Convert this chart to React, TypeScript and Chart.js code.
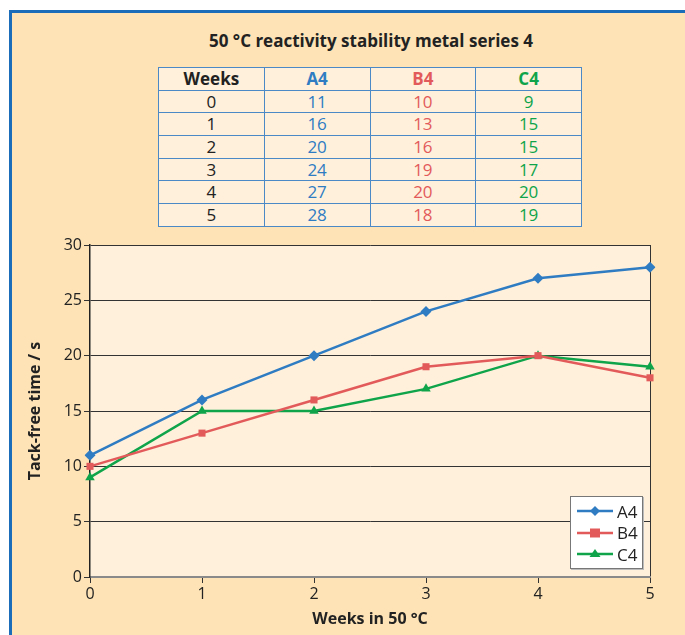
import React, { useEffect, useRef } from "react";
import { Chart, registerables } from "chart.js";

Chart.register(...registerables);

const chartTitle = "50 °C reactivity stability metal series 4";
const weeks = ["0", "1", "2", "3", "4", "5"];
const seriesNames = ["A4", "B4", "C4"];
const a4 = [11, 16, 20, 24, 27, 28];
const b4 = [10, 13, 16, 19, 20, 18];
const c4 = [9, 15, 15, 17, 20, 19];
const yTicks = [0, 5, 10, 15, 20, 25, 30];
const xTitle = "Weeks in 50 °C";
const yTitle = "Tack-free time / s";

const BLUE = "#2F7CC3";
const RED = "#E35A5A";
const GREEN = "#0FA44A";
const colors = [BLUE, RED, GREEN];
const markers = ["rectRot", "rect", "triangle"];
const FONT = "'Liberation Sans Narrow', 'Open Sans', sans-serif";

export default function App() {
  const ref = useRef<HTMLCanvasElement | null>(null);

  useEffect(() => {
    if (!ref.current) return;
    const seriesData = [a4, b4, c4];
    const areaBg = {
      id: "areaBg",
      beforeDraw(chart: any) {
        const { ctx, chartArea } = chart;
        ctx.save();
        ctx.fillStyle = "#FEF0DB";
        ctx.fillRect(chartArea.left, chartArea.top, chartArea.right - chartArea.left, chartArea.bottom - chartArea.top);
        ctx.restore();
      },
    };
    const chart = new Chart(ref.current, {
      type: "line",
      data: {
        labels: weeks,
        datasets: seriesNames.map((name, i) => ({
          label: name,
          data: seriesData[i],
          borderColor: colors[i],
          backgroundColor: colors[i],
          borderWidth: 2.5,
          pointStyle: markers[i] as any,
          pointRadius: i === 1 ? 5 : 5.5,
          pointBorderWidth: 0,
          tension: 0,
        })),
      },
      options: {
        animation: false,
        responsive: false,
        devicePixelRatio: 1,
        layout: { padding: { left: 22, top: 245, right: 35, bottom: 2 } },
        plugins: { legend: { display: false }, tooltip: { enabled: false } },
        scales: {
          x: {
            offset: false,
            grid: {
              color: (c: any) => (c.index === 5 ? "#333" : "rgba(0,0,0,0)"),
              tickColor: "#333",
              tickLength: 6,
              lineWidth: 1,
            },
            border: { color: "#8a8a8a", width: 2 },
            ticks: { color: "#222", font: { family: FONT, size: 16 }, padding: 2, maxRotation: 0 },
            title: { display: true, text: xTitle, color: "#222", font: { family: FONT, size: 16, weight: "bold" }, padding: { top: 4, bottom: 4 } },
            afterFit: (s: any) => { s.height = 56; },
          },
          y: {
            min: 0,
            max: 30,
            afterBuildTicks: (s: any) => { s.ticks = yTicks.map((v) => ({ value: v })); },
            grid: { color: "#333", tickColor: "#333", tickLength: 6, lineWidth: 1 },
            border: { color: "#222", width: 1.5 },
            ticks: { color: "#222", font: { family: FONT, size: 16 }, padding: 2 },
            title: { display: true, text: yTitle, color: "#222", font: { family: FONT, size: 16, weight: "bold" }, padding: { top: 4, bottom: 4 } },
            afterFit: (s: any) => { s.width = 68; },
          },
        },
      },
      plugins: [areaBg],
    });
    return () => chart.destroy();
  }, []);

  const cell: React.CSSProperties = {
    border: "1.5px solid #4A88C6",
    textAlign: "center",
    padding: 0,
    fontSize: 17,
    lineHeight: "20px",
  };
  const rowStyle: React.CSSProperties = { height: 22.7 };
  const rows = weeks.map((w, i) => [w, a4[i], b4[i], c4[i]]);
  const colColors = ["#222", BLUE, RED, GREEN];

  return (
    <div style={{ position: "absolute", left: 0, top: 0, width: 685, height: 635, background: "#fff", overflow: "hidden", fontFamily: FONT }}>
      <div style={{ position: "absolute", left: 9, top: 10, width: 700, height: 700, borderTop: "3px solid #1C6DB9", borderLeft: "3px solid #1C6DB9", background: "#FDE3B6" }} />
      <div style={{ position: "absolute", left: 0, top: 29, width: 742, textAlign: "center", fontWeight: "bold", fontSize: 17, color: "#222" }}>
        {chartTitle}
      </div>
      <table style={{ position: "absolute", left: 158, top: 67, width: 424, borderCollapse: "collapse", background: "#FEF0DB", tableLayout: "fixed" }}>
        <thead>
          <tr style={rowStyle}>
            {["Weeks", ...seriesNames].map((h, j) => (
              <th key={h} style={{ ...cell, color: colColors[j], fontWeight: "bold" }}>{h}</th>
            ))}
          </tr>
        </thead>
        <tbody>
          {rows.map((r, i) => (
            <tr key={i} style={rowStyle}>
              {r.map((v, j) => (
                <td key={j} style={{ ...cell, color: colColors[j] }}>{v}</td>
              ))}
            </tr>
          ))}
        </tbody>
      </table>
      <canvas ref={ref} width={685} height={635} style={{ position: "absolute", left: 0, top: 0, width: 685, height: 635 }} />
      <div style={{ position: "absolute", left: 570, top: 496, width: 71, height: 71, background: "#fff", border: "1px solid #777", boxShadow: "1px 1px 0 #bbb" }}>
        {seriesNames.map((n, i) => (
          <div key={n} style={{ position: "absolute", left: 6, top: 4 + i * 21.5, height: 20, width: 66, display: "flex", alignItems: "center" }}>
            <svg width={36} height={14} style={{ marginRight: 4 }}>
              <line x1={0} y1={7} x2={36} y2={7} stroke={colors[i]} strokeWidth={2.5} />
              {i === 0 && <polygon points="18,2 23,7 18,12 13,7" fill={colors[i]} />}
              {i === 1 && <rect x={13} y={2.5} width={10} height={9} fill={colors[i]} />}
              {i === 2 && <polygon points="18,2 23.5,10 12.5,10" fill={colors[i]} />}
            </svg>
            <span style={{ fontSize: 17, color: "#222" }}>{n}</span>
          </div>
        ))}
      </div>
    </div>
  );
}
